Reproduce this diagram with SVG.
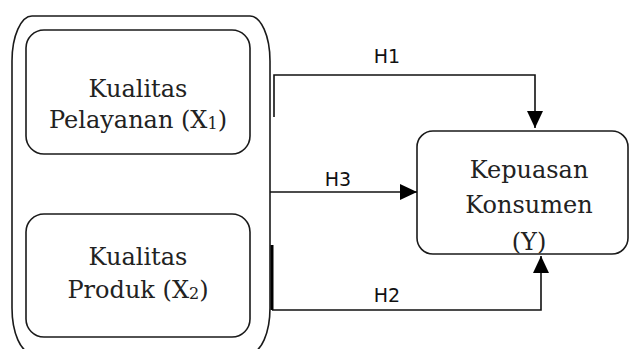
<svg xmlns="http://www.w3.org/2000/svg" width="630" height="349" viewBox="0 0 630 349">
<style>
.box{fill:#fff;stroke:#1a1a1a;stroke-width:1.6}
.serif{font-family:"DejaVu Serif","Liberation Serif",serif;font-size:24px;fill:#222;text-anchor:middle}
.lbl{font-family:"DejaVu Sans","Liberation Sans",sans-serif;font-size:19px;fill:#111;text-anchor:middle}
.edge{fill:none;stroke:#111;stroke-width:1.6}
</style>
<defs>
<marker id="arr" markerUnits="userSpaceOnUse" markerWidth="18" markerHeight="16" refX="17" refY="8" orient="auto">
<path d="M0,0 L17,8 L0,16 Z" fill="#000"/>
</marker>
</defs>
<rect width="630" height="349" fill="#fff"/>
<g id="group-x">
<rect class="box" x="12" y="16" width="258" height="337" rx="20" ry="45"/>
</g>
<g id="node-x1">
<rect class="box" x="26" y="30" width="224" height="124" rx="18" ry="18"/>
<text class="serif" x="138" y="97">Kualitas</text>
<text class="serif" x="138" y="128">Pelayanan (X<tspan font-size="16" dy="1">1</tspan><tspan dy="-1">)</tspan></text>
</g>
<g id="node-x2">
<rect class="box" x="26" y="214" width="224" height="123" rx="18" ry="18"/>
<text class="serif" x="138" y="265">Kualitas</text>
<text class="serif" x="138" y="298">Produk (X<tspan font-size="16" dy="1">2</tspan><tspan dy="-1">)</tspan></text>
</g>
<g id="node-y">
<rect class="box" x="417" y="131" width="211" height="123" rx="16" ry="16"/>
<text class="serif" x="529" y="178">Kepuasan</text>
<text class="serif" x="529" y="213">Konsumen</text>
<text class="serif" x="529" y="250">(Y)</text>
</g>
<g id="connectors">
<path class="edge" d="M274,117 V75 H535 V128" marker-end="url(#arr)"/>
<path class="edge" d="M270,192 H417" marker-end="url(#arr)"/>
<path class="edge" d="M272,310 H541 V256" marker-end="url(#arr)"/>
<line x1="272" y1="245" x2="272" y2="310" stroke="#000" stroke-width="3"/>
<text class="lbl" x="387" y="63">H1</text>
<text class="lbl" x="338" y="186">H3</text>
<text class="lbl" x="387" y="302">H2</text>
</g>
</svg>
